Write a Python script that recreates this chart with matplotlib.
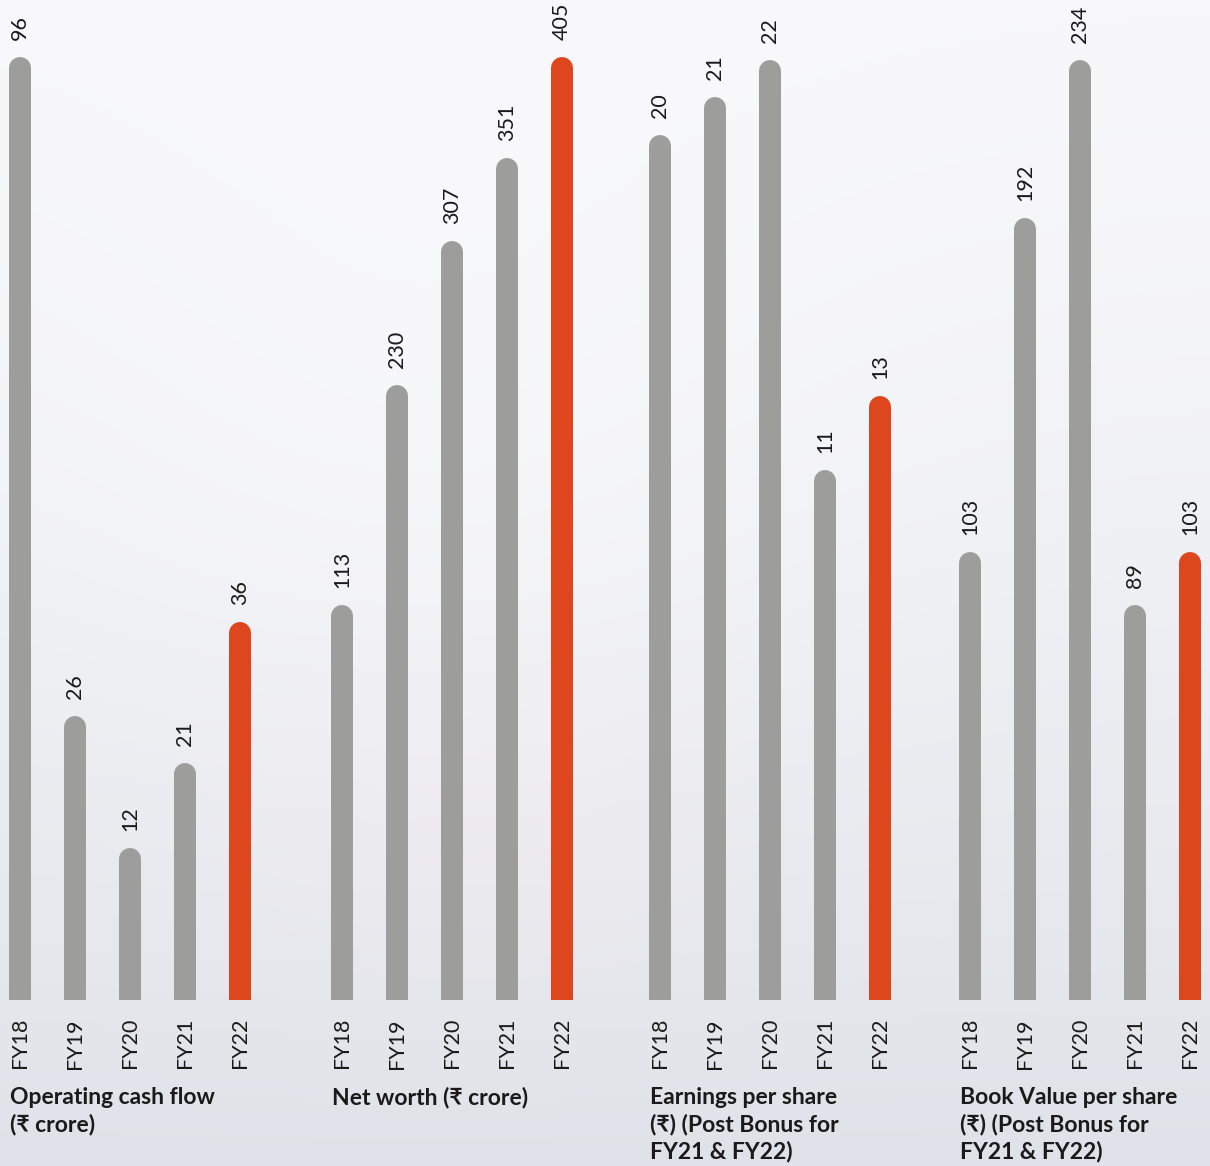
import numpy as np
import matplotlib
matplotlib.use("Agg")
from matplotlib import pyplot as plt

plt.rcParams['font.family'] = ['Lato', 'DejaVu Sans']

years = ["FY18", "FY19", "FY20", "FY21", "FY22"]

titles = ["Operating cash flow\n(₹ crore)",
          "Net worth (₹ crore)",
          "Earnings per share\n(₹) (Post Bonus for\nFY21 & FY22)",
          "Book Value per share\n(₹) (Post Bonus for\nFY21 & FY22)"]

cash_flow = [96, 26, 12, 21, 36]
net_worth = [113, 230, 307, 351, 405]
eps = [20, 21, 22, 11, 13]
book_value = [103, 192, 234, 89, 103]
series = [cash_flow, net_worth, eps, book_value]

# each panel has its own (non zero) scale, as in the source graphic
y_limits = [(-2.97, 103.2), (-91.6, 441.2), (-2.92, 23.91), (-13.17, 252.9)]

grey = "#9d9d9b"
red = "#de471e"
ink = "#1a1a1a"

W, H = 1210, 1166
fig = plt.figure(figsize=(W / 100, H / 100), dpi=100)

# soft background
bg = fig.add_axes([0, 0, 1, 1])
yy, xx = np.mgrid[0:1:300j, 0:1:300j]
top = np.array([248, 248, 251]) / 255
bottom = np.array([223, 226, 232]) / 255
t = np.clip(yy ** 1.4, 0, 1)[..., None]
img = top * (1 - t) + bottom * t
glow = np.exp(-(((xx - 0.35) / 0.35) ** 2 + ((yy - 0.3) / 0.35) ** 2))[..., None]
img = img * (1 - 0.5 * glow) + 0.5 * glow * np.array([0.985, 0.985, 0.99])
pink = np.exp(-(((xx - 0.4) / 0.2) ** 2 + ((yy - 0.72) / 0.15) ** 2))[..., None]
img = img * (1 - 0.12 * pink) + 0.12 * pink * np.array([1.0, 0.9, 0.93])
bg.imshow(img, aspect="auto", extent=[0, 1, 0, 1], origin="upper")
bg.set_axis_off()

first_centres = [20, 342, 660, 970]
step = 55
title_x = [10, 332, 650, 960]

for g in range(4):
    left_px = first_centres[g] - 22
    width_px = 4 * step + 44
    ax = fig.add_axes([left_px / W, (H - 1000) / H, width_px / W, 1000 / H])
    ax.set_xlim(-22 / step, 4 + 22 / step)
    ax.set_ylim(*y_limits[g])
    base = y_limits[g][0]
    for i, v in enumerate(series[g]):
        col = red if i == 4 else grey
        ax.plot([i, i], [base - 10, v], color=col, lw=15.84,
                solid_capstyle="round", clip_on=True)
        ax.annotate(str(v), (i, v), xytext=(0, 28), textcoords="offset pixels",
                    rotation=90, ha="center", va="bottom", fontsize=15.5,
                    color=ink, annotation_clip=False)
    ax.set_xticks(range(5), years, rotation=90, fontsize=15.5, color=ink)
    ax.tick_params(axis="x", length=0, pad=13)
    ax.set_yticks([])
    ax.patch.set_alpha(0)
    for s in ax.spines.values():
        s.set_visible(False)
    fig.text(title_x[g] / W, 1 - 1087 / H, titles[g], ha="left", va="top",
             fontsize=16.5, fontweight="bold", color=ink, linespacing=1.3)

fig.savefig("out.png", dpi=100)
